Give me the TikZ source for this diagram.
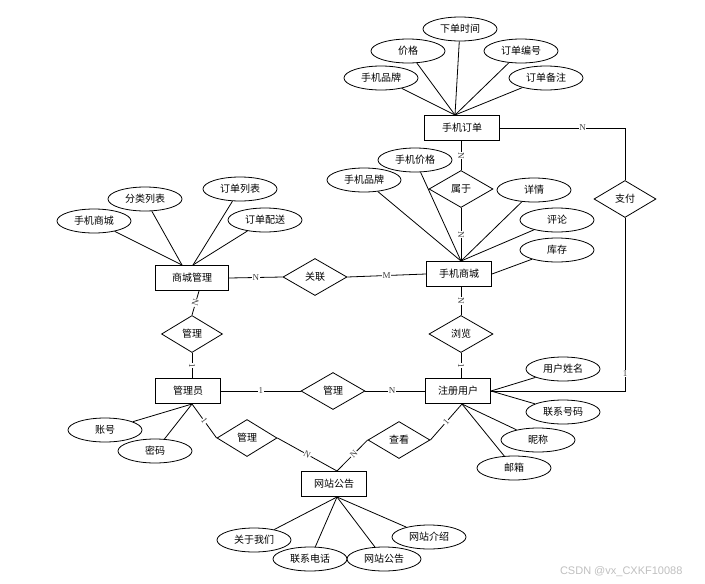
\documentclass[tikz,border=0pt]{standalone}
\usepackage{fontspec}
\setmainfont{Liberation Serif}
\setsansfont{Liberation Sans}
\newfontfamily\cjk{Noto Sans CJK SC}
\usetikzlibrary{shapes.geometric}
\tikzset{
    entity/.style={draw, rectangle, line width=1pt, minimum width=65pt, minimum height=25pt, inner sep=0pt, font=\cjk\fontsize{10}{12}\selectfont},
    attr/.style={draw, ellipse, line width=0.8pt, minimum width=74pt, minimum height=24pt, inner sep=0pt, font=\cjk\fontsize{10}{12}\selectfont},
    rel/.style={draw, diamond, line width=0.8pt, minimum width=64pt, minimum height=37pt, inner sep=0pt, font=\cjk\fontsize{10}{12}\selectfont},
    link/.style={line width=0.8pt},
    card/.style={font=\fontsize{9}{9}\selectfont, text=black!75, fill=white, inner sep=0.6pt}
}

\begin{document}
\begin{tikzpicture}[x=1pt, y=-1pt]
    \useasboundingbox (0,0) rectangle (705,584);

    % entities
    \node[entity, minimum width=75pt] (order) at (462,128) {手机订单};
    \node[entity] (shop) at (459,274) {手机商城};
    \node[entity, minimum width=73pt] (mgmt) at (192,278) {商城管理};
    \node[entity] (admin) at (188,391) {管理员};
    \node[entity] (user) at (458,391) {注册用户};
    \node[entity] (notice) at (334,484) {网站公告};

    % relations
    \node[rel] (belong) at (461,189) {属于};
    \node[rel] (assoc) at (315,277) {关联};
    \node[rel, minimum width=62pt] (pay) at (625,199) {支付};
    \node[rel, minimum width=61pt] (manage1) at (192,334) {管理};
    \node[rel] (browse) at (461,334) {浏览};
    \node[rel] (manage2) at (333,391) {管理};
    \node[rel, minimum width=60pt] (manage3) at (247,438) {管理};
    \node[rel, minimum width=62pt] (view) at (399,440) {查看};

    % 手机订单
    \node[attr] (time) at (460,29) {下单时间};
    \node[attr] (price) at (408,51) {价格};
    \node[attr] (ordno) at (521,51) {订单编号};
    \node[attr] (brand1) at (381,78) {手机品牌};
    \node[attr] (remark) at (546,78) {订单备注};
    \foreach \a in {time, price, ordno, brand1, remark}
        \draw[link] (\a) -- ([xshift=-7pt]order.north);

    % 手机商城
    \node[attr] (sprice) at (415,160) {手机价格};
    \node[attr] (brand2) at (364,180) {手机品牌};
    \node[attr] (detail) at (534,190) {详情};
    \node[attr] (comment) at (557,220) {评论};
    \node[attr] (stock) at (557,250) {库存};
    \foreach \a in {sprice, brand2, detail, comment}
        \draw[link] (\a) -- ([xshift=2pt]shop.north);
    \draw[link] (stock) -- (shop.east);

    % 商城管理
    \node[attr] (mall) at (94,221) {手机商城};
    \node[attr] (cat) at (145,199) {分类列表};
    \node[attr] (olist) at (240,189) {订单列表};
    \node[attr] (deliver) at (265,220) {订单配送};
    \foreach \a in {mall, cat}
        \draw[link] (\a) -- ([xshift=-10pt]mgmt.north);
    \foreach \a in {olist, deliver}
        \draw[link] (\a) -- ([xshift=1pt]mgmt.north);

    % 注册用户
    \node[attr] (uname) at (563,369) {用户姓名};
    \node[attr] (phone) at (563,412) {联系号码};
    \node[attr] (nick) at (538,440) {昵称};
    \node[attr] (mail) at (514,468) {邮箱};
    \foreach \a in {uname, phone}
        \draw[link] (\a) -- (user.east);
    \foreach \a in {nick, mail}
        \draw[link] (\a) -- ([xshift=4pt]user.south);

    % 管理员
    \node[attr] (acct) at (105,430) {账号};
    \node[attr] (pwd) at (155,451) {密码};
    \foreach \a in {acct, pwd}
        \draw[link] (\a) -- ([xshift=4pt]admin.south);

    % 网站公告
    \node[attr] (about) at (254,540) {关于我们};
    \node[attr] (tel) at (310,559) {联系电话};
    \node[attr] (site) at (384,559) {网站公告};
    \node[attr] (intro) at (429,537) {网站介绍};
    \foreach \a in {about, tel, site, intro}
        \draw[link] (\a) -- ([xshift=3pt]notice.south);

    % relation lines
    \draw[link] (order.south -| belong.north) -- node[card, sloped]{N} (belong.north);
    \draw[link] (belong.south) -- node[card, sloped]{N} (belong.south |- shop.north);
    \draw[link] (mgmt.east) -- node[card]{N} (assoc.west);
    \draw[link] (assoc.east) -- node[card]{M} (shop.west);
    \draw[link] (order.east) -| node[card, pos=0.33]{N} (pay.north);
    \draw[link] (pay.south) |- node[card, pos=0.45]{1} (user.east);
    \draw[link] (browse.north |- shop.south) -- node[card, sloped]{N} (browse.north);
    \draw[link] (browse.south) -- node[card, sloped]{1} (browse.south |- user.north);
    \draw[link] ([xshift=7pt]mgmt.south) -- node[card, sloped]{N} (manage1.north);
    \draw[link] (manage1.south) -- node[card, sloped]{1} (manage1.south |- admin.north);
    \draw[link] (admin.east) -- node[card]{1} (manage2.west);
    \draw[link] (manage2.east) -- node[card, pos=0.45]{N} (user.west);
    \draw[link] ([xshift=4pt]admin.south) -- node[card, sloped]{1} (manage3.west);
    \draw[link] (manage3.east) -- node[card, sloped]{N} ([xshift=3pt]notice.north);
    \draw[link] ([xshift=4pt]user.south) -- node[card, sloped]{1} (view.east);
    \draw[link] (view.west) -- node[card, sloped, pos=0.45]{N} ([xshift=3pt]notice.north);

    % watermark
    \node[font=\sffamily\fontsize{11}{13}\selectfont, text=black!25, anchor=east] (mark) at (686,572) {CSDN @vx\_CXKF10088};
\end{tikzpicture}
\end{document}
